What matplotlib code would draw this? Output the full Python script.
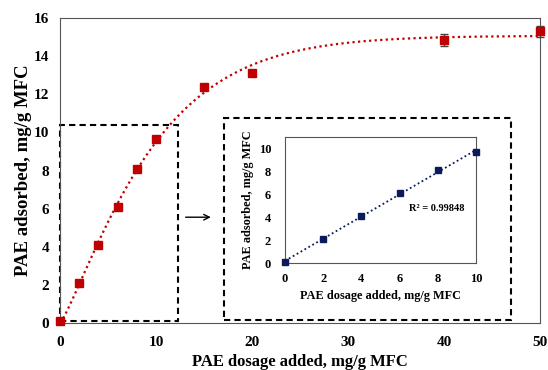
import numpy as np
import matplotlib.pyplot as plt
from matplotlib.patches import Rectangle

# data
dosage = [0, 2, 4, 6, 8, 10, 15, 20, 40, 50]
adsorbed = [0.1, 2.1, 4.1, 6.1, 8.1, 9.65, 12.4, 13.1, 14.85, 15.3]
err = [0, 0, 0, 0, 0, 0, 0, 0, 0.3, 0.3]

lin_x = [0, 2, 4, 6, 8, 10]
lin_y = [0.1, 2.1, 4.1, 6.1, 8.1, 9.65]
r2_label = 'R² = 0.99848'

red = '#c00000'
navy = '#0b1a5a'

plt.rcParams['font.family'] = ['Liberation Serif', 'DejaVu Serif']
plt.rcParams['font.weight'] = 'bold'

fig = plt.figure(figsize=(5.48, 3.70), dpi=100)
ax = fig.add_axes([60 / 548, 1 - 323 / 370, 480 / 548, 305 / 370])

# saturation trend y = a(1 - exp(-(bx)^c)), least-squares fit to the points
x = np.array(dosage, float)
y = np.array(adsorbed, float)
best = None
for b in np.linspace(0.02, 0.3, 300):
    for c in np.linspace(0.8, 2.0, 61):
        basis = 1 - np.exp(-(b * x) ** c)
        a = (basis @ y) / (basis @ basis)
        sse = np.sum((a * basis - y) ** 2)
        if best is None or sse < best[0]:
            best = (sse, a, b, c)
_, a, b, c = best
xs = np.linspace(0, 50, 300)
ax.plot(xs, a * (1 - np.exp(-(b * xs) ** c)),
        ls=(0, (1, 1.5)), color=red, lw=1.6, zorder=2)

ax.errorbar(dosage, adsorbed, yerr=err, fmt='s', color=red, ms=5.5,
            ecolor='#444444', elinewidth=1, capsize=3, zorder=3, clip_on=False)

ax.set_xlim(0, 50)
ax.set_ylim(0, 16)
ax.set_xticks(range(0, 51, 10))
ax.set_yticks(range(0, 17, 2))
ax.tick_params(axis='x', length=0, labelsize=11, pad=9)
ax.tick_params(axis='y', length=0, labelsize=11, pad=8)
for s in ax.spines.values():
    s.set_color('#555555')
ax.set_xlabel('PAE dosage added, mg/g MFC', fontsize=12, fontweight='bold', labelpad=4)
ax.set_ylabel('PAE adsorbed, mg/g MFC', fontsize=13.5, fontweight='bold', labelpad=1)

# dashed boxes and arrow
ax.add_patch(Rectangle((0, 0.1), 12.3, 10.3, fill=False, ls=(0, (3, 2)),
                       lw=1.5, ec='black', clip_on=False, zorder=1))
ax.add_patch(Rectangle((17.1, 0.15), 29.9, 10.6, fill=False, ls=(0, (3, 2)),
                       lw=1.5, ec='black', clip_on=False, zorder=1))
ax.annotate('', xy=(16.0, 5.55), xytext=(12.8, 5.55),
            arrowprops=dict(arrowstyle='->', color='black', lw=1))

# inset
ins = fig.add_axes([285 / 548, 1 - 263 / 370, 191 / 548, 126 / 370])
ins.plot(lin_x, np.polyval(np.polyfit(lin_x, lin_y, 1), lin_x),
         ls=(0, (1, 1.5)), color=navy, lw=1.3, zorder=2)
ins.plot(lin_x, lin_y, 's', color=navy, ms=5, zorder=3, clip_on=False)
ins.set_xlim(0, 10)
ins.set_ylim(0, 11)
ins.set_xticks(range(0, 11, 2))
ins.set_yticks(range(0, 11, 2))
ins.tick_params(axis='x', length=0, labelsize=9, pad=7)
ins.tick_params(axis='y', length=0, labelsize=9, pad=10)
for s in ins.spines.values():
    s.set_color('#555555')
ins.set_xlabel('PAE dosage added, mg/g MFC', fontsize=8.8, fontweight='bold', labelpad=4)
ins.set_ylabel('PAE adsorbed, mg/g MFC', fontsize=8.8, fontweight='bold', labelpad=3)
ins.text(6.5, 4.8, r2_label, fontsize=7.5, fontweight='bold', va='center')

fig.savefig('out.png', dpi=100)
